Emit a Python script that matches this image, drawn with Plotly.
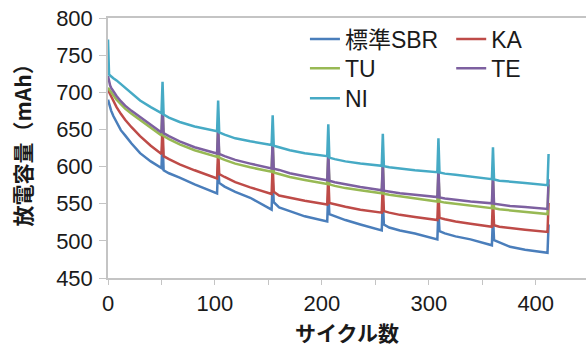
import plotly.graph_objects as go

# Cycle numbers sampled along each test run (capacity-check recovery at 51, 103, 154, ...)
cycles = [
    0, 1, 2, 3, 5, 8, 12, 16, 22, 30, 40, 50,
    51, 52, 57, 67, 81, 102,
    103, 104, 109, 119, 133, 153,
    154, 155, 160, 170, 184, 205,
    206, 207, 212, 222, 236, 256,
    257, 258, 263, 273, 287, 308,
    309, 310, 315, 325, 339, 359,
    360, 361, 366, 376, 390, 411,
    412,
]

# Discharge capacity (mAh) per binder
cap_sbr = [
    690, 684, 679, 675, 668, 660, 649, 642, 631, 618, 607, 598,
    638, 595, 591, 585, 576, 564,
    604, 578, 573, 566, 558, 542,
    582, 552, 545, 540, 533, 526,
    566, 536, 533, 528, 522, 514,
    554, 522, 518, 514, 510, 502,
    542, 513, 510, 506, 502, 494,
    534, 501, 498, 492, 488, 484,
    522,
]
cap_ka = [
    703, 700, 697, 694, 687, 680, 671, 663, 653, 641, 628, 617,
    657, 614, 610, 603, 595, 584,
    624, 590, 586, 579, 572, 563,
    603, 566, 561, 558, 554, 549,
    589, 551, 549, 546, 542, 538,
    578, 540, 538, 535, 532, 528,
    568, 531, 529, 526, 523, 519,
    559, 521, 519, 517, 515, 512,
    551,
]
cap_tu = [
    706, 704, 702, 700, 696, 690, 684, 678, 671, 663, 652, 642,
    682, 641, 637, 630, 622, 613,
    653, 612, 609, 604, 599, 593,
    633, 592, 590, 586, 582, 576.5,
    616, 576, 574, 571, 568, 564,
    604, 563.5, 562, 560, 557, 553,
    593, 553, 551.5, 550, 548, 544,
    584, 544, 542.5, 541, 539, 536,
    576,
]
cap_te = [
    722, 714, 709, 706, 701, 695, 688, 682, 675, 667, 656, 646,
    686, 645, 641, 634, 626, 617.5,
    657, 617, 614, 609, 604, 597.5,
    637, 597, 595.5, 591, 587, 581.5,
    621, 581, 579, 576, 572.5, 568,
    608, 567.5, 566, 564, 562, 559,
    599, 558.5, 557, 555, 553, 550.5,
    590, 550, 549, 547, 545.5, 543,
    583,
]
cap_ni = [
    771, 724, 722.5, 721, 719, 716, 711, 706, 698, 689, 680, 672,
    714, 670, 666, 660, 654, 647.5,
    689, 646, 643, 638, 634, 629,
    669, 628, 626, 622, 618, 614,
    657, 612, 610, 607, 604, 601,
    644, 600.5, 599, 597, 595, 592.5,
    638, 592, 590.5, 589, 586.5, 583,
    626, 582.5, 581, 580, 578, 575,
    617,
]

series_names = ["標準SBR", "KA", "TU", "TE", "NI"]
series_values = [cap_sbr, cap_ka, cap_tu, cap_te, cap_ni]
series_colors = ["#4A7EBB", "#BE4B48", "#98B954", "#7D60A0", "#46AAC5"]

y_ticks = [450, 500, 550, 600, 650, 700, 750, 800]
x_ticks = [0, 100, 200, 300, 400]

TICK_FONT = dict(family="Liberation Sans, Arial, Noto Sans CJK JP", size=22, color="#1a1a1a")
LEGEND_FONT = dict(family="Liberation Sans, Arial, Noto Sans CJK JP", size=23, color="#1a1a1a")
TITLE_FONT = dict(family="Noto Sans CJK JP", size=21, color="#1a1a1a")
AXIS_GREY = "#c4c4c4"

# Legend laid out as a 2-column grid: one single-entry legend per cell
legend_ids = ["legend", "legend2", "legend3", "legend4", "legend5"]
legend_cols = [0.412, 0.718, 0.412, 0.718, 0.412]
legend_rows = [1.002, 1.002, 0.889, 0.889, 0.774]

fig = go.Figure()
for name, vals, color, leg in zip(series_names, series_values, series_colors, legend_ids):
    fig.add_trace(go.Scatter(
        x=cycles, y=vals, name=name, mode="lines",
        line=dict(color=color, width=2.5),
        legend=leg,
    ))

legend_layout = {}
for leg, lx, ly in zip(legend_ids, legend_cols, legend_rows):
    legend_layout[leg] = dict(
        x=lx, y=ly, xanchor="left", yanchor="top",
        font=LEGEND_FONT, bgcolor="rgba(0,0,0,0)", borderwidth=0,
        orientation="v", itemwidth=30,
    )

fig.update_layout(
    width=586,
    height=347,
    margin=dict(l=108, r=0, t=18, b=69),
    paper_bgcolor="white",
    plot_bgcolor="white",
    showlegend=True,
    **legend_layout,
    xaxis=dict(
        range=[0, 447],
        tickvals=x_ticks,
        ticks="outside",
        ticklen=5,
        tickcolor=AXIS_GREY,
        tickfont=TICK_FONT,
        ticklabelstandoff=0,
        showline=True,
        linecolor=AXIS_GREY,
        linewidth=1.5,
        mirror=True,
        showgrid=False,
        zeroline=False,
        minor=dict(dtick=50, tick0=0, ticks="outside", ticklen=5, tickcolor=AXIS_GREY, showgrid=False),
    ),
    yaxis=dict(
        range=[450, 800],
        tickvals=y_ticks,
        ticks="outside",
        ticklen=7,
        tickcolor=AXIS_GREY,
        tickfont=TICK_FONT,
        ticklabelstandoff=2,
        showline=True,
        linecolor=AXIS_GREY,
        linewidth=1.5,
        showgrid=False,
        zeroline=False,
    ),
    annotations=[
        dict(
            text="<b>サイクル数</b>", xref="paper", yref="paper",
            x=0.5, y=-0.208, xanchor="center", yanchor="middle",
            showarrow=False, font=TITLE_FONT,
        ),
        dict(
            text="<b>放電容量（mAh）</b>", xref="paper", yref="paper",
            x=-0.18, y=0.533, xanchor="center", yanchor="middle",
            textangle=-90, showarrow=False, font=TITLE_FONT,
        ),
    ],
)

fig.write_html("out.html")
